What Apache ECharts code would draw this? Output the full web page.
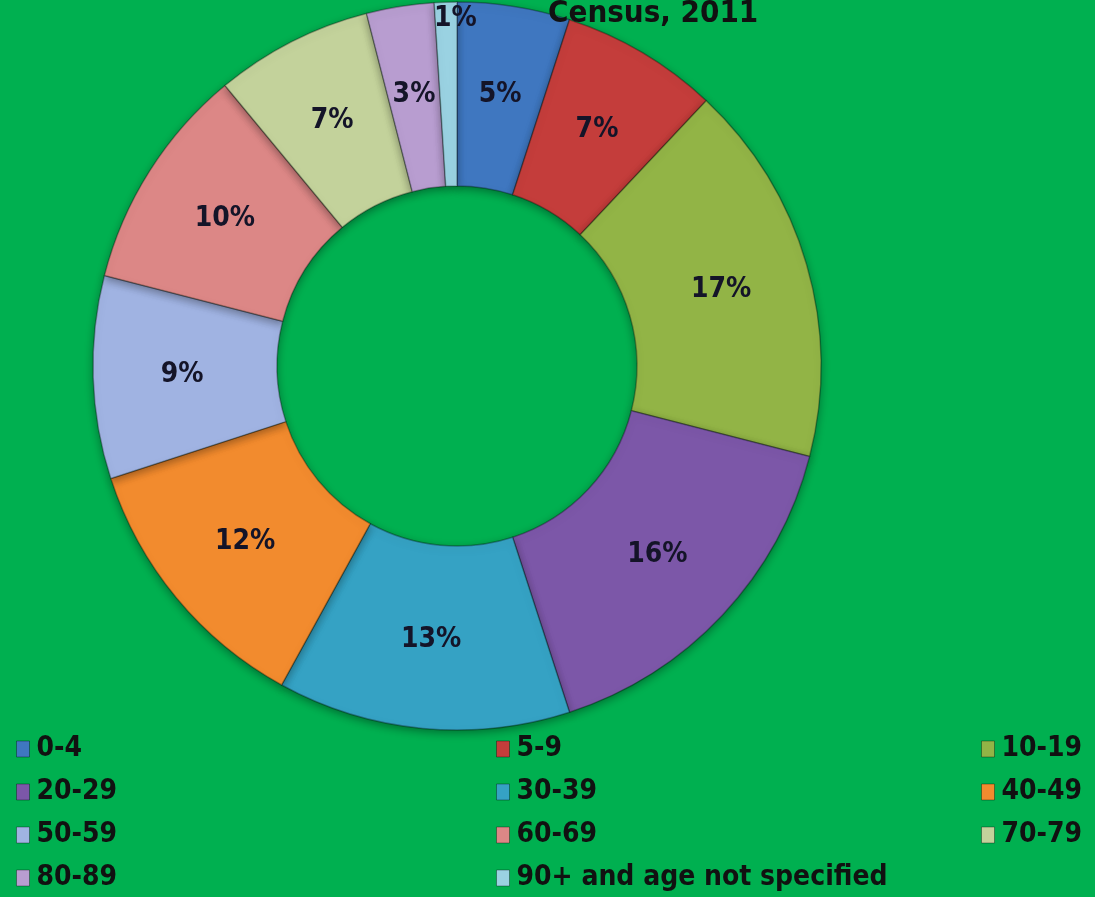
<!DOCTYPE html>
<html>
<head>
<meta charset="utf-8">
<script src="https://cdn.jsdelivr.net/npm/echarts@6/dist/echarts.min.js"></script>
<style>
  html, body { margin: 0; padding: 0; background: #00b050; }
  #main { width: 1095px; height: 897px; }
</style>
</head>
<body>
<div id="main"></div>
<script>
// age groups and their share of population (%)
const ageGroups = ['0-4', '5-9', '10-19', '20-29', '30-39', '40-49', '50-59', '60-69', '70-79', '80-89', '90+ and age not specified'];
const shares = [5, 7, 17, 16, 13, 12, 9, 10, 7, 3, 1];
const colors = ['#3f77c0', '#c43d3b', '#92b446', '#7c57a8', '#35a2c4', '#f28b2e', '#a0b3e2', '#dc8786', '#c3d29b', '#b89dd0', '#9ad2e2'];

// legend columns
const legendCol1 = ['0-4', '20-29', '50-59', '80-89'];
const legendCol2 = ['5-9', '30-39', '60-69', '90+ and age not specified'];
const legendCol3 = ['10-19', '40-49', '70-79'];

const font = "'DejaVu Sans Condensed', sans-serif";

const chart = echarts.init(document.getElementById('main'));

function legend(data, left) {
  return {
    data: data,
    orient: 'vertical',
    left: left,
    top: 735,
    height: 160,
    padding: 0,
    itemWidth: 13,
    itemHeight: 16,
    itemGap: 15,
    icon: 'rect',
    selectedMode: false,
    itemStyle: { borderColor: 'rgba(0,0,0,0.35)', borderWidth: 1 },
    textStyle: { color: '#111', fontSize: 28, fontWeight: 'bold', fontFamily: font, padding: [0, 0, 0, 2] }
  };
}

const pieData = ageGroups.map((name, i) => ({
  name: name,
  value: shares[i],
  itemStyle: { color: colors[i] }
}));

chart.setOption({
  backgroundColor: '#00b050',
  animation: false,
  title: {
    text: 'Census, 2011',
    left: 548,
    top: -2,
    padding: 0,
    textStyle: { color: '#111', fontSize: 31, fontWeight: 'bold', fontFamily: font }
  },
  legend: [legend(legendCol1, 16), legend(legendCol2, 496), legend(legendCol3, 981)],
  series: [{
    type: 'pie',
    center: [457, 366],
    radius: [180, 364],
    startAngle: 90,
    clockwise: true,
    itemStyle: {
      borderColor: 'rgba(0,0,0,0.3)',
      borderWidth: 1.5,
      shadowColor: 'rgba(0,0,0,0.35)',
      shadowBlur: 8,
      shadowOffsetY: 3
    },
    label: {
      show: true,
      position: 'inside',
      formatter: '{d}%',
      color: '#141428',
      fontSize: 28,
      fontWeight: 'bold',
      fontFamily: font
    },
    labelLine: { show: false },
    // the thin last slice has its label pushed out toward the rim
    labelLayout: function (params) {
      if (params.dataIndex === ageGroups.length - 1) {
        return { dx: 7, dy: -72, hideOverlap: false };
      }
      return {};
    },
    data: pieData
  }]
});
</script>
</body>
</html>
